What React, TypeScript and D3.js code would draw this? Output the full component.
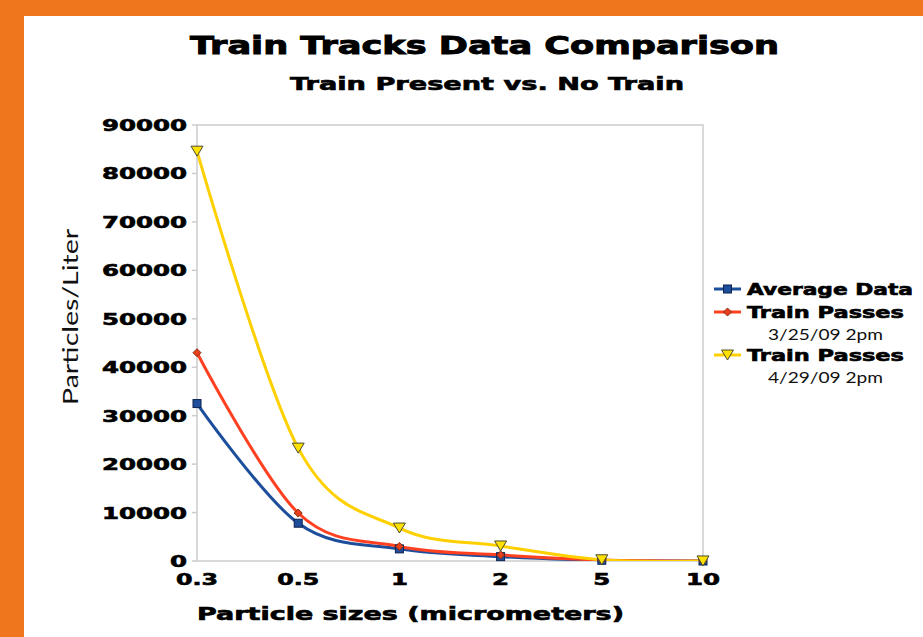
import React from "react";
import * as d3 from "d3";

// ---- data ----
const categories = ["0.3", "0.5", "1", "2", "5", "10"];
const averageData = [32500, 7800, 2500, 900, 150, 0];
const trainPasses0325 = [43000, 9900, 3000, 1250, 200, 0];
const trainPasses0429 = [84600, 23300, 6800, 3100, 250, 10];
const yTicks = [0, 10000, 20000, 30000, 40000, 50000, 60000, 70000, 80000, 90000];

const W = 923;
const H = 637;
const plot = { left: 197, right: 703, top: 125, bottom: 561 };

const heavy = "'DejaVu Sans', 'Liberation Sans', sans-serif";
const light = "Lato, 'Open Sans', sans-serif";

function heavyWidth(s: string) {
  let w = 0;
  for (const c of s) w += c === "." ? 8 : 17;
  return w;
}

export default function App() {
  const x = d3.scalePoint<string>().domain(categories).range([plot.left, plot.right]);
  const y = d3.scaleLinear().domain([0, 90000]).range([plot.bottom, plot.top]);

  const line = d3
    .line<number>()
    .x((_, i) => x(categories[i]) as number)
    .y((d) => y(d))
    .curve(d3.curveCardinal.tension(0));

  const series = [
    { name: "avg", values: averageData, color: "#1d4e9c", marker: "square" },
    { name: "r", values: trainPasses0325, color: "#ff4122", marker: "diamond" },
    { name: "y", values: trainPasses0429, color: "#ffd000", marker: "tri" },
  ];

  const marker = (kind: string, cx: number, cy: number, key: string) => {
    if (kind === "square")
      return <rect key={key} x={cx - 4} y={cy - 4} width={8} height={8} fill="#1d4e9c" stroke="#0d2350" strokeWidth={1} />;
    if (kind === "diamond")
      return <path key={key} d={`M${cx},${cy - 4}L${cx + 4},${cy}L${cx},${cy + 4}L${cx - 4},${cy}Z`} fill="#e8401c" stroke="#8a2a10" strokeWidth={1} />;
    return <path key={key} d={`M${cx - 6},${cy - 5}L${cx + 6},${cy - 5}L${cx},${cy + 5}Z`} fill="#ffe100" stroke="#4a4a30" strokeWidth={1} />;
  };

  const legend = [
    { label: "Average Data", sub: null, y: 289, color: "#1d4e9c", marker: "square", len: 166 },
    { label: "Train Passes", sub: "3/25/09 2pm", y: 312, color: "#ff4122", marker: "diamond", len: 157 },
    { label: "Train Passes", sub: "4/29/09 2pm", y: 355, color: "#ffd000", marker: "tri", len: 157 },
  ];

  return (
    <svg width={W} height={H} style={{ position: "absolute", left: 0, top: 0 }}>
      <rect x={0} y={0} width={W} height={H} fill="#ef761c" />
      <rect x={24} y={16} width={W - 24} height={H - 16} fill="#ffffff" />

      <defs>
        <clipPath id="plotclip">
          <rect x={plot.left} y={plot.top} width={plot.right - plot.left} height={plot.bottom - plot.top} />
        </clipPath>
      </defs>

      {/* titles */}
      <text x={484.5} y={53.5} textAnchor="middle" fontFamily={heavy} fontWeight="bold" fontSize={24}
        stroke="#000" strokeWidth={0.9} textLength={589} lengthAdjust="spacingAndGlyphs">
        Train Tracks Data Comparison
      </text>
      <text x={487} y={90} textAnchor="middle" fontFamily={heavy} fontWeight="bold" fontSize={17}
        stroke="#000" strokeWidth={0.6} textLength={394} lengthAdjust="spacingAndGlyphs">
        Train Present vs. No Train
      </text>

      {/* frame */}
      <rect x={plot.left} y={plot.top} width={plot.right - plot.left} height={plot.bottom - plot.top}
        fill="none" stroke="#cccccc" strokeWidth={1.5} />

      {/* y ticks */}
      {yTicks.map((t) => (
        <g key={t}>
          <line x1={plot.left - 5} x2={plot.left} y1={y(t)} y2={y(t)} stroke="#cccccc" strokeWidth={1.5} />
          <text x={187} y={y(t) + 6} textAnchor="end" fontFamily={heavy} fontWeight="bold" fontSize={16}
            stroke="#000" strokeWidth={0.6} textLength={heavyWidth(String(t))} lengthAdjust="spacingAndGlyphs">
            {t}
          </text>
        </g>
      ))}

      {/* x tick labels */}
      {categories.map((c) => (
        <text key={c} x={x(c)} y={585} textAnchor="middle" fontFamily={heavy} fontWeight="bold" fontSize={16}
          stroke="#000" strokeWidth={0.6} textLength={heavyWidth(c)} lengthAdjust="spacingAndGlyphs">
          {c}
        </text>
      ))}

      {/* axis titles */}
      <text x={410.5} y={620} textAnchor="middle" fontFamily={heavy} fontWeight="bold" fontSize={17}
        stroke="#000" strokeWidth={0.6} textLength={427} lengthAdjust="spacingAndGlyphs">
        Particle sizes (micrometers)
      </text>
      <text transform="translate(78,317) rotate(-90)" textAnchor="middle" fontFamily={light} fontSize={22}
        fill="#111" textLength={176} lengthAdjust="spacingAndGlyphs">
        Particles/Liter
      </text>

      {/* lines */}
      <g clipPath="url(#plotclip)">
        {series.map((s) => (
          <path key={s.name} d={line(s.values) || ""} fill="none" stroke={s.color} strokeWidth={3} />
        ))}
      </g>
      {series.map((s) =>
        s.values.map((v, i) => marker(s.marker, x(categories[i]) as number, y(v), s.name + i))
      )}

      {/* legend */}
      {legend.map((l, i) => (
        <g key={i}>
          <line x1={714} x2={741} y1={l.y} y2={l.y} stroke={l.color} strokeWidth={3} />
          {marker(l.marker, 727.5, l.y, "lg" + i)}
          <text x={747} y={l.y + 6} fontFamily={heavy} fontWeight="bold" fontSize={15}
            stroke="#000" strokeWidth={0.6} textLength={l.len} lengthAdjust="spacingAndGlyphs">
            {l.label}
          </text>
          {l.sub && (
            <text x={768} y={l.y + 28} fontFamily={light} fontSize={16} fill="#111"
              textLength={115} lengthAdjust="spacingAndGlyphs">
              {l.sub}
            </text>
          )}
        </g>
      ))}
    </svg>
  );
}
